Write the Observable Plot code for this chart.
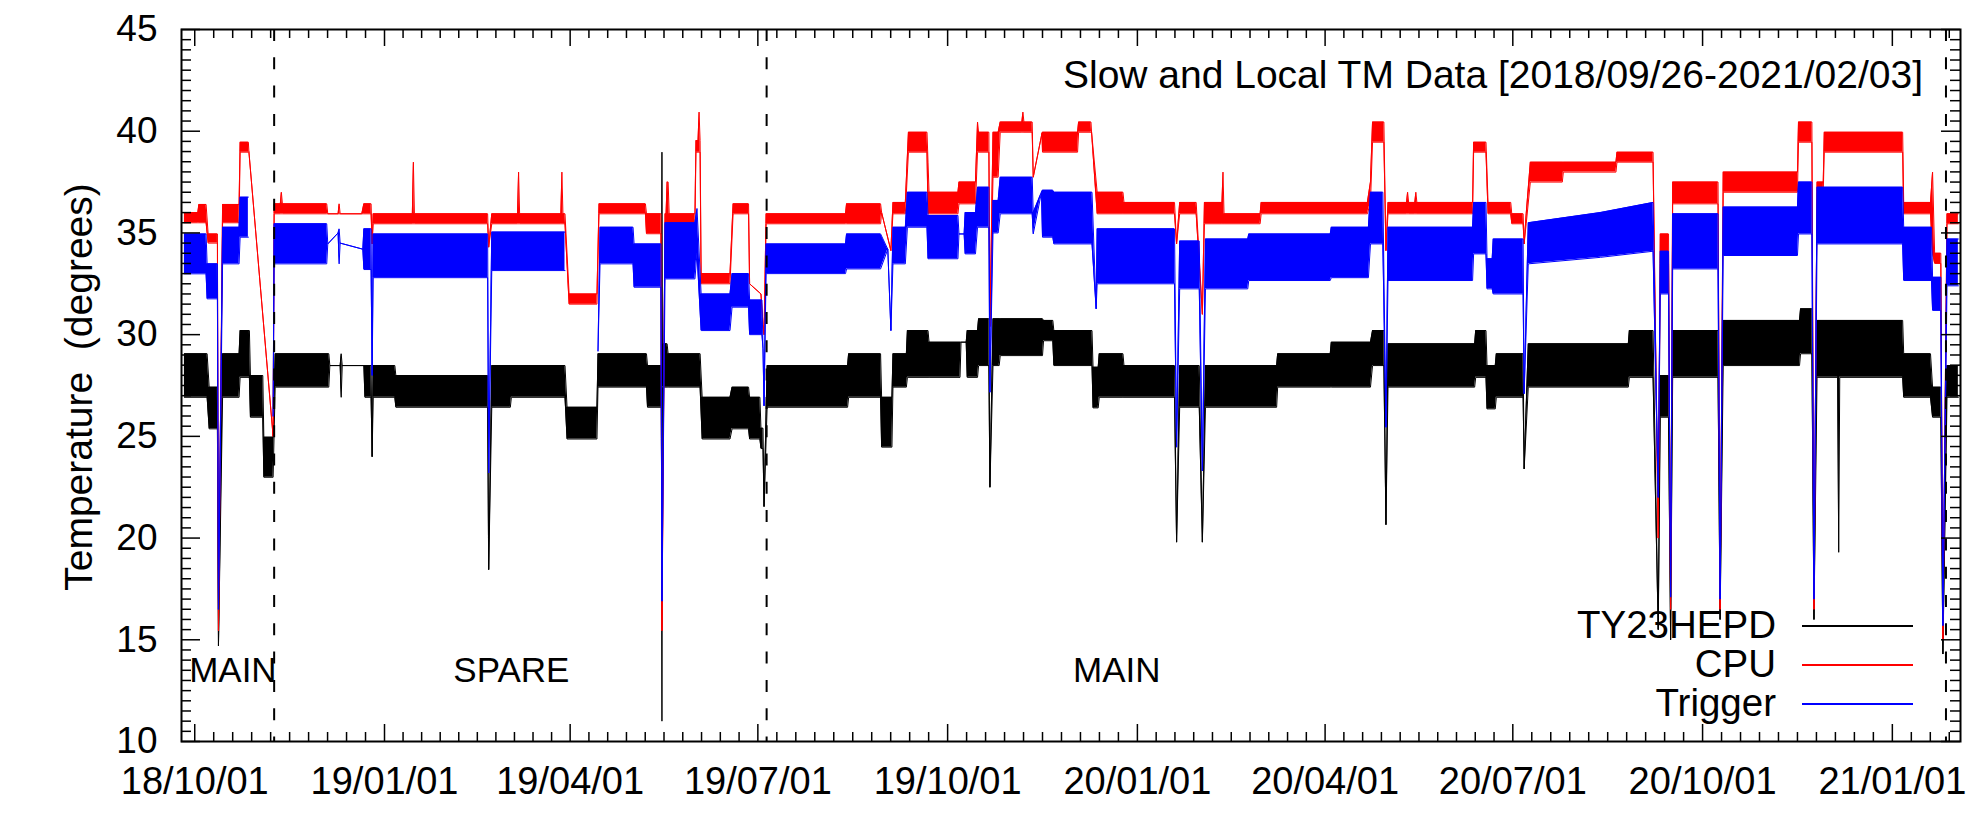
<!DOCTYPE html>
<html><head><meta charset="utf-8">
<script src="https://cdn.jsdelivr.net/npm/d3@7"></script>
<script src="https://cdn.jsdelivr.net/npm/@observablehq/plot@0.6"></script>
<style>
body{margin:0;background:#fff;}
#wrap{position:relative;width:1969px;height:816px;font-family:"Liberation Sans",Arial,Helvetica,sans-serif;}
#wrap svg{display:block;}
#overlay{position:absolute;left:0;top:0;pointer-events:none;}
</style></head><body><div id="wrap"></div>
<script>
// ---------------- data ----------------
// segments: [start, end, low, high]  (a dip/spike is a segment with start == end)
const hepd = [
["2018-09-26","2018-10-07",26.92,29.06],["2018-10-08","2018-10-12",25.37,27.42],["2018-10-12T12","2018-10-12T12",14.7,14.7],
["2018-10-14T12","2018-10-22T12",26.92,29.06],["2018-10-23","2018-10-27T12",27.9,30.2],["2018-10-28","2018-11-03",25.94,27.99],
["2018-11-03T12","2018-11-08",22.99,24.96],["2018-11-09","2018-12-05",27.42,29.06],["2018-12-05T12","2018-12-10T12",28.48,28.48],
["2018-12-11","2018-12-11",26.92,29.06],["2018-12-11T12","2018-12-22",28.48,28.48],["2018-12-22T12","2018-12-25T12",26.92,28.48],
["2018-12-26","2018-12-26",24.0,24.0],["2018-12-26T12","2019-01-06",26.92,28.48],["2019-01-06T12","2019-02-20",26.43,27.99],
["2019-02-20T12","2019-02-20T12",18.45,18.45],["2019-02-22","2019-03-03",26.43,28.48],["2019-03-03T12","2019-03-29T12",26.92,28.48],
["2019-03-30T12","2019-04-14",24.87,26.43],["2019-04-14T12","2019-05-08",27.42,29.06],["2019-05-08T12","2019-05-15T06",26.43,28.48],
["2019-05-15T12","2019-05-15T12",11.0,38.97],["2019-05-15T18","2019-05-18",27.42,29.55],["2019-05-18T12","2019-06-03",27.42,29.06],
["2019-06-04","2019-06-17T12",24.87,26.92],["2019-06-18T12","2019-06-26T12",25.37,27.42],["2019-06-27","2019-07-02",24.87,26.92],
["2019-07-02T12","2019-07-03T12",24.4,25.4],["2019-07-04","2019-07-04",21.55,21.55],["2019-07-05T12","2019-08-13T12",26.43,28.48],
["2019-08-14","2019-08-29T12",26.92,29.06],["2019-08-30","2019-09-04",24.47,26.92],["2019-09-04T12","2019-09-11",27.42,29.06],
["2019-09-11T12","2019-09-21T12",27.9,30.2],["2019-09-22","2019-10-07",27.9,29.63],["2019-10-07T12","2019-10-10",29.63,29.63],
["2019-10-10T12","2019-10-15T12",27.9,30.2],["2019-10-16","2019-10-21",28.48,30.78],["2019-10-21T12","2019-10-21T12",22.5,22.5],
["2019-10-23","2019-10-26",28.48,30.78],["2019-10-26T12","2019-11-16",28.97,30.78],["2019-11-16T12","2019-11-21",29.7,30.7],
["2019-11-21T12","2019-12-10",28.48,30.2],["2019-12-10T12","2019-12-13",26.4,28.4],["2019-12-13T12","2019-12-25",26.92,29.06],
["2019-12-25T12","2020-01-19",26.92,28.48],["2020-01-20","2020-01-20",19.8,19.8],["2020-01-21T12","2020-01-31",26.43,28.48],
["2020-02-01T12","2020-02-01T12",19.8,19.8],["2020-02-03","2020-03-08T12",26.43,28.48],["2020-03-09","2020-04-03T12",27.42,29.06],
["2020-04-04","2020-04-23",27.42,29.63],["2020-04-24","2020-04-29T12",28.48,30.2],["2020-04-30T12","2020-04-30T12",20.66,20.66],
["2020-05-01T12","2020-06-12T12",27.42,29.55],["2020-06-13","2020-06-18",27.9,30.2],["2020-06-18T12","2020-06-22T12",26.35,28.48],
["2020-06-23","2020-07-06",26.92,29.06],["2020-07-06T12","2020-07-06T12",23.4,23.4],["2020-07-08T12","2020-08-26",27.42,29.55],
["2020-08-26T12","2020-09-07",27.9,30.2],["2020-09-09T12","2020-09-09T12",15.5,15.5],["2020-09-10T12","2020-09-14T12",25.94,27.99],
["2020-09-15T12","2020-09-15T12",15.0,15.0],["2020-09-16T12","2020-10-08T12",27.9,30.2],["2020-10-09T12","2020-10-09T12",16.0,16.0],
["2020-10-11","2020-11-17",28.48,30.7],["2020-11-17T12","2020-11-23",29.06,31.27],["2020-11-24","2020-11-24",16.0,16.0],
["2020-11-25T12","2020-12-05T12",27.9,30.7],["2020-12-06","2020-12-06",19.3,30.7],["2020-12-06T12","2021-01-06",27.9,30.7],
["2021-01-06T12","2021-01-19T12",26.92,29.06],["2021-01-20T12","2021-01-24T12",25.94,27.42],["2021-01-25T12","2021-01-25T12",14.3,14.3],
["2021-01-27T12","2021-02-02",26.92,28.48]
];
const cpu = [
["2018-09-26","2018-10-02T12",35.5,36.0],["2018-10-03","2018-10-06T12",35.5,36.4],["2018-10-07T12","2018-10-12",34.5,34.95],
["2018-10-12T12","2018-10-12T12",15.45,15.45],["2018-10-14T12","2018-10-22T12",35.5,36.4],["2018-10-23","2018-10-27",38.97,39.46],
["2018-10-27T06","2018-10-27T06",39.0,39.0],["2018-11-08","2018-11-08",25.0,25.0],["2018-11-08T12","2018-11-11T12",35.94,36.43],
["2018-11-12","2018-11-12",35.94,37.0],["2018-11-12T12","2018-12-04",35.94,36.43],["2018-12-04T12","2018-12-09T12",35.94,35.94],
["2018-12-10","2018-12-10",35.94,36.43],["2018-12-10T12","2018-12-21",35.94,35.94],["2018-12-22","2018-12-25T12",35.94,36.43],
["2018-12-26","2018-12-26",34.46,34.46],["2018-12-26T12","2019-01-14T12",35.45,35.94],["2019-01-15","2019-01-15",35.45,38.48],
["2019-01-15T12","2019-02-20",35.45,35.94],["2019-02-20T12","2019-02-20T12",34.3,34.3],["2019-02-22","2019-03-06T12",35.45,35.94],
["2019-03-07","2019-03-07",35.45,37.99],["2019-03-07T12","2019-03-27T12",35.45,35.94],["2019-03-28","2019-03-28",35.45,37.99],
["2019-03-28T12","2019-03-29T12",35.45,35.94],["2019-03-31T12","2019-04-14",31.5,32.0],["2019-04-15","2019-05-07T12",35.94,36.43],
["2019-05-08","2019-05-15",34.96,35.94],["2019-05-15T12","2019-05-15T12",15.45,15.45],["2019-05-17","2019-05-17T12",35.45,35.94],
["2019-05-18","2019-05-18T12",35.45,37.5],["2019-05-19","2019-05-31T12",35.45,35.94],["2019-06-01","2019-06-02",38.97,39.54],
["2019-06-02T12","2019-06-02T12",38.97,40.94],["2019-06-03","2019-06-03",38.97,39.54],["2019-06-03T12","2019-06-17T12",32.5,33.0],
["2019-06-19","2019-06-26T12",35.94,36.43],["2019-06-27","2019-06-27",32.5,32.5],["2019-07-02T12","2019-07-02T12",32.0,32.0],
["2019-07-03T12","2019-07-03T12",30.5,30.5],["2019-07-04","2019-07-04",30.0,30.0],["2019-07-05","2019-08-12T12",35.45,35.94],
["2019-08-13","2019-08-29T12",35.45,36.43],["2019-08-30","2019-08-30",36.0,36.0],["2019-09-03T12","2019-09-03T12",34.13,34.13],
["2019-09-04T12","2019-09-10T12",35.94,36.5],["2019-09-12","2019-09-21",38.97,39.95],["2019-09-21T12","2019-09-21T12",35.94,38.48],
["2019-09-22","2019-10-06",35.94,37.0],["2019-10-06T12","2019-10-14T12",36.43,37.5],["2019-10-15T12","2019-10-15T12",38.97,40.45],
["2019-10-16","2019-10-21",38.97,39.95],["2019-10-21T12","2019-10-21T12",30.4,30.4],["2019-10-23","2019-10-25T12",37.74,39.95],
["2019-10-26T12","2019-11-06",39.95,40.45],["2019-11-06T12","2019-11-06T12",39.95,40.94],["2019-11-07","2019-11-11",39.95,40.45],
["2019-11-11T12","2019-11-11T12",37.74,37.74],["2019-11-15T18","2019-11-15T18",39.9,39.9],["2019-11-16","2019-12-03",38.97,39.95],
["2019-12-03T12","2019-12-09T12",39.95,40.45],["2019-12-09T18","2019-12-09T18",40.0,40.0],["2019-12-12T12","2019-12-25",35.94,37.0],
["2019-12-25T12","2020-01-19",35.94,36.5],["2020-01-20","2020-01-20",34.46,34.46],["2020-01-21T12","2020-01-29T12",35.94,36.5],
["2020-02-01T12","2020-02-01T12",31.0,31.0],["2020-02-02T12","2020-02-11",35.45,36.5],["2020-02-11T12","2020-02-11T12",35.45,37.99],
["2020-02-12","2020-02-29T12",35.45,35.94],["2020-03-01","2020-04-21T12",35.94,36.5],["2020-04-23","2020-04-23",36.5,37.5],
["2020-04-24","2020-04-29T12",39.46,40.45],["2020-04-30T12","2020-04-30T12",34.13,34.13],["2020-05-01T12","2020-05-10T12",35.94,36.5],
["2020-05-11","2020-05-11",35.94,37.0],["2020-05-11T12","2020-05-14T12",35.94,36.5],["2020-05-15","2020-05-15",35.94,37.0],
["2020-05-15T12","2020-06-11T12",35.94,36.5],["2020-06-12","2020-06-18",38.97,39.46],["2020-06-19","2020-06-30",35.94,36.5],
["2020-06-30T12","2020-07-06",35.45,35.94],["2020-07-06T12","2020-07-06T12",34.46,34.46],["2020-07-07T12","2020-07-07T12",35.45,35.94],
["2020-07-09T12","2020-07-25",37.5,38.48],["2020-07-25T12","2020-08-20",37.99,38.48],["2020-08-20T12","2020-09-07",38.48,38.97],
["2020-09-09T12","2020-09-09T12",20.0,20.0],["2020-09-10T12","2020-09-14T12",33.48,34.95],["2020-09-15T12","2020-09-15T12",16.5,16.5],
["2020-09-16T12","2020-10-08T12",36.43,37.5],["2020-10-09T12","2020-10-09T12",16.5,16.5],["2020-10-11","2020-11-16",37.0,37.99],
["2020-11-16T12","2020-11-23",39.46,40.45],["2020-11-24","2020-11-24",16.5,16.5],["2020-11-25T12","2020-11-28T12",37.0,37.5],
["2020-11-29","2021-01-06",38.97,39.95],["2021-01-06T12","2021-01-19T12",35.94,36.5],["2021-01-20T12","2021-01-20T12",34.0,37.99],
["2021-01-21T12","2021-01-24T12",33.5,34.0],["2021-01-25T12","2021-01-25T12",15.0,15.0],["2021-01-27T12","2021-02-02",35.45,35.94]
];
const trigger = [
["2018-09-26","2018-10-06T12",32.99,34.95],["2018-10-07","2018-10-12",31.76,33.48],["2018-10-12T12","2018-10-12T12",16.5,16.5],
["2018-10-14T12","2018-10-22T12",33.48,35.28],["2018-10-23","2018-10-27",34.79,36.76],["2018-10-28","2018-10-28",null,null],
["2018-11-08","2018-11-08",26.0,26.0],["2018-11-08T12","2018-12-04",33.48,35.45],["2018-12-04T12","2018-12-04T12",34.46,34.46],
["2018-12-09T12","2018-12-09T12",35.0,35.0],["2018-12-10","2018-12-10",33.48,35.2],["2018-12-10T12","2018-12-10T12",34.5,34.5],
["2018-12-21T12","2018-12-21T12",34.2,34.2],["2018-12-22","2018-12-25T12",33.2,35.2],["2018-12-26","2018-12-26",28.0,28.0],
["2018-12-26T12","2019-02-20",32.8,34.95],["2019-02-20T12","2019-02-20T12",23.2,23.2],["2019-02-22","2019-03-29T12",33.15,35.04],
["2019-03-31","2019-03-31",null,null],["2019-04-14T12","2019-04-14T12",29.2,29.2],["2019-04-15T12","2019-05-01T12",33.48,35.28],
["2019-05-02","2019-05-15",32.33,34.46],["2019-05-15T12","2019-05-15T12",16.9,16.9],["2019-05-17","2019-05-31T12",32.74,35.5],
["2019-06-01T12","2019-06-01T12",34.0,36.2],["2019-06-03T12","2019-06-17T12",30.2,32.0],["2019-06-18T12","2019-06-26T12",31.35,33.0],
["2019-06-27","2019-07-03",30.0,31.7],["2019-07-03T12","2019-07-03T12",29.3,29.3],["2019-07-04","2019-07-04",26.5,26.5],
["2019-07-05","2019-08-12T12",33.0,34.46],["2019-08-13","2019-08-29T12",33.23,34.95],["2019-09-02","2019-09-02",34.2,34.2],
["2019-09-03T12","2019-09-03T12",30.2,30.2],["2019-09-04T12","2019-09-10T12",33.48,35.28],["2019-09-11T12","2019-09-21",35.28,37.0],
["2019-09-21T12","2019-10-06",33.73,35.86],["2019-10-06T12","2019-10-09",34.95,34.95],["2019-10-09T12","2019-10-14T12",33.97,36.0],
["2019-10-15T12","2019-10-21",35.28,37.25],["2019-10-21T12","2019-10-21T12",27.17,27.17],["2019-10-23","2019-10-25T12",35.0,36.6],
["2019-10-26T12","2019-11-11",35.94,37.74],["2019-11-11T12","2019-11-11T12",34.95,36.0],["2019-11-15T12","2019-11-15T12",37.0,37.0],
["2019-11-16","2019-11-21",34.79,37.1],["2019-11-21T12","2019-12-10",34.46,37.0],["2019-12-12","2019-12-12",31.27,31.27],
["2019-12-12T12","2020-01-19",32.5,35.2],["2020-01-20","2020-01-20",24.47,24.47],["2020-01-21T12","2020-01-31",32.25,34.6],
["2020-02-01T12","2020-02-01T12",23.3,23.3],["2020-02-03","2020-02-23T12",32.25,34.7],["2020-02-24","2020-04-03T12",32.66,34.95],
["2020-04-04","2020-04-22",32.8,35.28],["2020-04-23","2020-04-29",34.46,37.0],["2020-04-30T12","2020-04-30T12",25.45,25.45],
["2020-05-01T12","2020-06-11T12",32.66,35.28],["2020-06-12","2020-06-18",33.97,36.5],["2020-06-18T12","2020-06-21",32.25,33.73],
["2020-06-21T12","2020-07-06",32.0,34.7],["2020-07-06T12","2020-07-06T12",27.1,27.1],["2020-07-08T12","2020-07-08T12",33.48,35.5],
["2020-08-12T12","2020-08-12T12",33.8,36.0],["2020-09-07","2020-09-07",34.1,36.5],["2020-09-09T12","2020-09-09T12",22.0,22.0],
["2020-09-10T12","2020-09-14T12",32.0,34.1],["2020-09-15T12","2020-09-15T12",17.1,17.1],["2020-09-16T12","2020-10-08T12",33.23,35.94],
["2020-10-09T12","2020-10-09T12",17.0,17.0],["2020-10-11","2020-11-16",33.89,36.27],["2020-11-16T12","2020-11-23",34.95,37.5],
["2020-11-24","2020-11-24",17.0,17.0],["2020-11-25T12","2021-01-06",34.46,37.25],["2021-01-06T12","2021-01-20",32.66,35.28],
["2021-01-20T12","2021-01-24T12",31.19,32.82],["2021-01-25T12","2021-01-25T12",15.7,15.7],["2021-01-27T12","2021-02-02",32.4,34.7]
];
const xTicks = ["2018-10-01","2019-01-01","2019-04-01","2019-07-01","2019-10-01","2020-01-01","2020-04-01","2020-07-01","2020-10-01","2021-01-01"];
const yTicks = [10,15,20,25,30,35,40,45];
const switchDates = ["2018-11-08T12","2019-07-05T06","2021-01-27"];
const regionNames = ["MAIN","SPARE","MAIN"];
const regionDates = ["2018-10-19T12","2019-03-03T12","2019-12-22"];
const regionY = [13.5,13.5,13.5];
const seriesNames = ["TY23HEPD","CPU","Trigger"];
const seriesColors = ["#000000","#ff0000","#0000ff"];
const titleText = "Slow and Local TM Data [2018/09/26-2021/02/03]";
const yTitle = "Temperature  (degrees)";
const xDomain = ["2018-09-24T14","2021-02-03T01"];

// ---------------- build ----------------
const T = s => new Date(s.length === 10 ? s + "T00:00:00Z" : s + ":00:00Z");
function knots(segs){const out=[];for(const [a,b,lo,hi] of segs){out.push({date:T(a),lo,hi});if(b!==a)out.push({date:T(b),lo,hi});}return out;}

const W=1969,H=816,mL=181,mR=9,mT=29,mB=75;
const pW=W-mL-mR,pH=H-mT-mB;
const dom=xDomain.map(T);
const majorT=xTicks.map(T);
const minorT=[];
for(let i=0;i<majorT.length;i++){
  const a=+majorT[i];
  const b=i+1<majorT.length?+majorT[i+1]:a+(a-(+majorT[i-1]));
  const st=(b-a)/10;
  for(let j=1;j<10;j++){const t=a+st*j;if(t<+dom[1])minorT.push(new Date(t));}
  if(i===0){for(let j=1;j<10;j++){const t=a-st*j;if(t>+dom[0])minorT.push(new Date(t));}}
}
const yMinor=d3.range(10,45.001,0.5).filter(v=>Math.abs(v%5)>1e-6);

const marks=[];
[hepd,cpu,trigger].forEach((segs,i)=>{
  const k=knots(segs),c=seriesColors[i];
  marks.push(Plot.areaY(k,{x:"date",y1:"lo",y2:"hi",fill:c,curve:"linear"}));
  marks.push(Plot.line(k,{x:"date",y:"lo",stroke:c,strokeWidth:1}));
  marks.push(Plot.line(k,{x:"date",y:"hi",stroke:c,strokeWidth:1}));
});
marks.push(Plot.ruleX(switchDates.map(T),{stroke:"#000",strokeWidth:2,strokeDasharray:"12,16.3"}));
marks.push(Plot.text(regionNames.map((n,i)=>({date:T(regionDates[i]),y:regionY[i],n})),{x:"date",y:"y",text:"n",fontSize:35,fill:"#000",textAnchor:"middle",lineAnchor:"middle"}));
// ticks inward on all four sides
marks.push(Plot.tickX(majorT,{x:d=>d,insetTop:pH-17,stroke:"#000",strokeWidth:1.5}));
marks.push(Plot.tickX(majorT,{x:d=>d,insetBottom:pH-17,stroke:"#000",strokeWidth:1.5}));
marks.push(Plot.tickX(minorT,{x:d=>d,insetTop:pH-9,stroke:"#000",strokeWidth:1.5}));
marks.push(Plot.tickX(minorT,{x:d=>d,insetBottom:pH-9,stroke:"#000",strokeWidth:1.5}));
marks.push(Plot.tickY(yTicks,{y:d=>d,insetRight:pW-19,stroke:"#000",strokeWidth:1.5}));
marks.push(Plot.tickY(yTicks,{y:d=>d,insetLeft:pW-19,stroke:"#000",strokeWidth:1.5}));
marks.push(Plot.tickY(yMinor,{y:d=>d,insetRight:pW-10,stroke:"#000",strokeWidth:1.5}));
marks.push(Plot.tickY(yMinor,{y:d=>d,insetLeft:pW-10,stroke:"#000",strokeWidth:1.5}));
marks.push(Plot.axisX(majorT,{tickSize:0,tickPadding:26,tickFormat:d3.utcFormat("%y/%m/%d"),fontSize:38,label:null}));
marks.push(Plot.axisY(yTicks,{tickSize:0,tickPadding:24,fontSize:37,label:null,tickFormat:d=>String(d)}));
marks.push(Plot.frame({stroke:"#000",strokeWidth:2}));

const chart=Plot.plot({
  width:W,height:H,marginLeft:mL,marginRight:mR,marginTop:mT,marginBottom:mB,
  style:{fontFamily:'"Liberation Sans",Arial,Helvetica,sans-serif',background:"#fff",color:"#000",overflow:"visible"},
  x:{type:"utc",domain:dom},
  y:{domain:[10,45]},
  marks
});
const wrap=document.getElementById("wrap");
wrap.appendChild(chart);

// overlay: title, y-axis title, legend
const ov=d3.select(wrap).append("svg").attr("id","overlay").attr("width",W).attr("height",H)
  .style("font-family",'"Liberation Sans",Arial,Helvetica,sans-serif');
ov.append("text").attr("x",1923).attr("y",88).attr("text-anchor","end").attr("font-size",39).attr("fill","#000").text(titleText);
ov.append("text").attr("transform","translate(91.5,387) rotate(-90)").attr("text-anchor","middle")
  .attr("font-size",39).attr("fill","#000").style("white-space","pre").text(yTitle);
const legY=[626,665,704];
seriesNames.forEach((n,i)=>{
  ov.append("text").attr("x",1776).attr("y",legY[i]+12).attr("text-anchor","end").attr("font-size",38.5).attr("fill","#000").text(n);
  ov.append("line").attr("x1",1802).attr("x2",1913).attr("y1",legY[i]).attr("y2",legY[i]).attr("stroke",seriesColors[i]).attr("stroke-width",2);
});
</script></body></html>
